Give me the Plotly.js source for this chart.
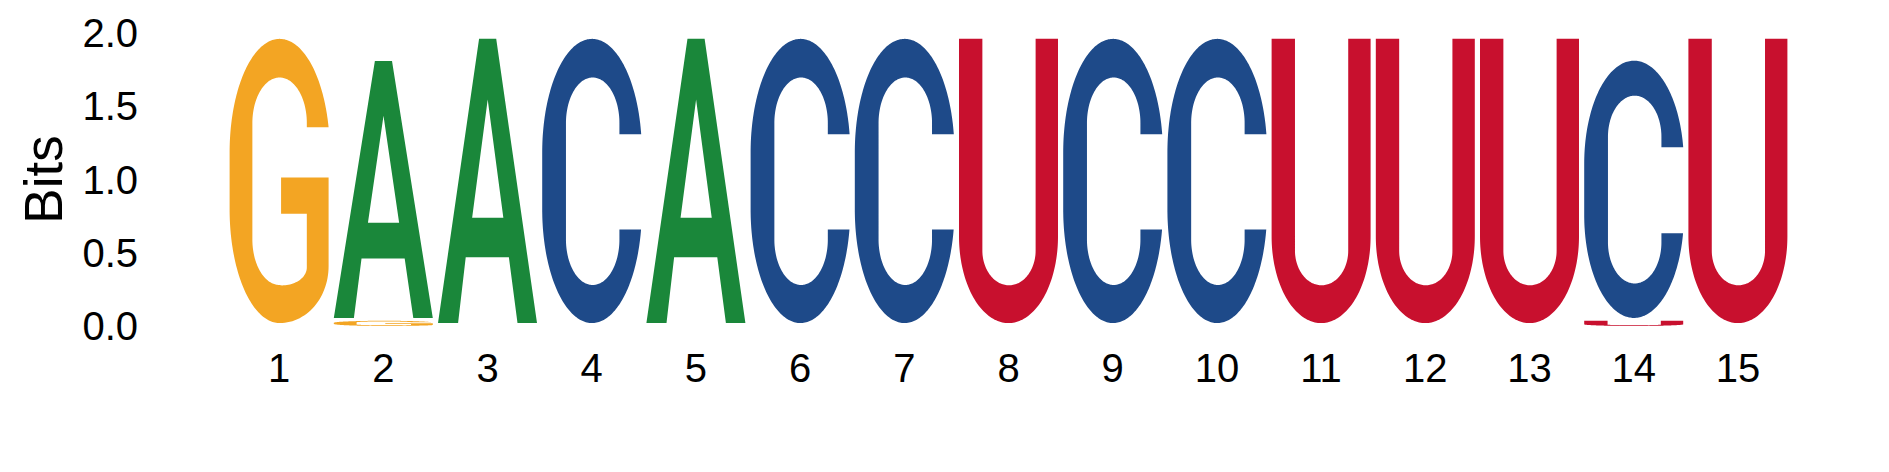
<!DOCTYPE html>
<html>
<head>
<meta charset="utf-8">
<script src="https://cdn.plot.ly/plotly-3.0.1.min.js"></script>
<style>
  html, body { margin: 0; padding: 0; background: #ffffff; }
  #chart { width: 1889px; height: 472px; }
</style>
</head>
<body>
<div id="chart"></div>
<script>
const positions = [1, 2, 3, 4, 5, 6, 7, 8, 9, 10, 11, 12, 13, 14, 15];
const tickLabels = ['1', '2', '3', '4', '5', '6', '7', '8', '9', '10', '11', '12', '13', '14', '15'];
const bases = ['A', 'C', 'G', 'U'];
// information height (bits) of each base at each position
const heightA = [0, 1.808, 2.0, 0, 2.0, 0, 0, 0, 0, 0, 0, 0, 0, 0, 0];
const heightC = [0, 0, 0, 2.0, 0, 2.0, 2.0, 0, 2.0, 2.0, 0, 0, 0, 1.81, 0];
const heightG = [2.0, 0.0365, 0, 0, 0, 0, 0, 0, 0, 0, 0, 0, 0, 0, 0];
const heightU = [0, 0, 0, 0, 0, 0, 0, 2.0, 0, 0, 2.0, 2.0, 2.0, 0.037, 2.0];
const yTickVals = [0, 0.5, 1.0, 1.5, 2.0];
const yTickText = ['0.0', '0.5', '1.0', '1.5', '2.0'];

// ---- Style ----
const colors = { A: '#1A873A', C: '#1E4A89', G: '#F3A523', U: '#C8102E' };
const FONT = 'Liberation Sans, Arial, Helvetica, sans-serif';
const GLYPH_W = 0.95;     // fraction of a column used by a letter
const PAD_B = 0.01, PAD_T = 0.02;

// ---- Glyph outlines in a unit box (u to the right, v upward) ----
const TAU = 2 * Math.PI;
function earc(cx, cy, rx, ry, t0, t1, N) {
  const pts = [];
  for (let i = 0; i <= N; i++) {
    const t = t0 + (t1 - t0) * i / N;
    pts.push([cx + rx * Math.cos(t), cy + ry * Math.sin(t)]);
  }
  return pts;
}
// "stadium" contour: elliptical top cap (centre vt, half-height a) and bottom cap
// (centre vb, half-height b), joined by straight vertical sides.
function stadium(c, r, vt, a, vb, b, t0, t1, N) {
  const lo = Math.min(t0, t1), hi = Math.max(t0, t1);
  const cuts = [];
  for (let k = Math.ceil(lo / Math.PI); k * Math.PI < hi; k++) {
    if (k * Math.PI > lo) cuts.push(k * Math.PI);
  }
  if (t1 < t0) cuts.reverse();
  const bps = [t0].concat(cuts, [t1]);
  let pts = [];
  for (let i = 0; i < bps.length - 1; i++) {
    const s0 = bps[i], s1 = bps[i + 1];
    const top = Math.sin((s0 + s1) / 2) >= 0;
    const n = Math.max(4, Math.round(N * Math.abs(s1 - s0) / TAU));
    pts = pts.concat(top ? earc(c, vt, r, a, s0, s1, n) : earc(c, vb, r, b, s0, s1, n));
  }
  return pts;
}

const glyphs = {
  C: (function () {
    const oc = 0.5033;
    const ta = Math.asin((0.664 - 0.6) / 0.4), tb = TAU + Math.asin((0.329 - 0.4) / 0.4);
    const outer = stadium(oc, oc, 0.6, 0.4, 0.4, 0.4, ta, tb, 260);
    let inner = [[0.78, 0.329]];
    inner = inner.concat(stadium(0.51, 0.27, 0.704, 0.16, 0.294, 0.16, TAU, 0, 220));
    inner.push([0.78, 0.664]);
    return [outer.concat(inner)];
  })(),
  G: (function () {
    const oc = 0.5063;
    const ta = Math.asin((0.689 - 0.6) / 0.4);
    let pts = stadium(oc, oc, 0.6, 0.4, 0.4, 0.4, ta, 1.5 * Math.PI, 260);
    pts = pts.concat(earc(oc, 0.2, 1 - oc, 0.2, 1.5 * Math.PI, TAU, 30));
    pts.push([1.0, 0.512], [0.52, 0.512], [0.52, 0.385], [0.78, 0.385], [0.78, 0.196]);
    pts = pts.concat(earc(0.53, 0.196, 0.25, 0.0635, TAU, 1.5 * Math.PI, 24));
    pts = pts.concat(stadium(0.505, 0.275, 0.704, 0.16, 0.294, 0.16, 1.5 * Math.PI, 0, 220));
    pts.push([0.78, 0.689]);
    return [pts];
  })(),
  U: (function () {
    let pts = [[0, 1], [0, 0.305]];
    pts = pts.concat(earc(0.5, 0.305, 0.5, 0.305, Math.PI, TAU, 100));
    pts.push([1, 1], [0.774, 1], [0.774, 0.255]);
    pts = pts.concat(earc(0.505, 0.255, 0.269, 0.122, TAU, Math.PI, 80));
    pts.push([0.236, 1]);
    return [pts];
  })(),
  A: [
    [[0, 0], [0.415, 1], [0.588, 1], [1, 0], [0.803, 0], [0.716, 0.232], [0.28, 0.232], [0.203, 0]],
    [[0.345, 0.371], [0.66, 0.371], [0.502, 0.787]]
  ]
};

function glyphPath(letter, x, y0, h) {
  const f = (p) => {
    const dx = x + (p[0] - 0.5) * GLYPH_W;
    const dy = y0 + (PAD_B + p[1] * (1 - PAD_B - PAD_T)) * h;
    return dx.toFixed(4) + ',' + dy.toFixed(5);
  };
  return glyphs[letter].map(c => 'M' + c.map(f).join('L') + 'Z').join(' ');
}

// ---- Build stacked letters (smallest at the bottom) ----
const heights = { A: heightA, C: heightC, G: heightG, U: heightU };
const shapes = [];
positions.forEach((pos, i) => {
  const col = bases.map(b => ({ b: b, h: heights[b][i] })).filter(o => o.h > 0)
    .sort((p, q) => p.h - q.h);
  let base = 0;
  col.forEach(o => {
    shapes.push({
      type: 'path', xref: 'x', yref: 'y',
      path: glyphPath(o.b, pos, base, o.h),
      fillcolor: colors[o.b], line: { width: 0 }, layer: 'above'
    });
    base += o.h;
  });
});

const trace = {
  x: positions, y: positions.map(() => null), type: 'scatter', mode: 'markers',
  hoverinfo: 'skip', showlegend: false
};

const layout = {
  width: 1889, height: 472,
  margin: { l: 227, r: 99, t: 33, b: 146, pad: 0 },
  paper_bgcolor: '#ffffff', plot_bgcolor: '#ffffff',
  showlegend: false,
  font: { family: FONT, color: '#000000' },
  shapes: shapes,
  xaxis: {
    range: [0.5, 15.5], tickmode: 'array', tickvals: positions, ticktext: tickLabels,
    ticks: '', showgrid: false, zeroline: false, showline: false, automargin: false,
    tickfont: { family: FONT, size: 40, color: '#000000' }, ticklabelstandoff: 15, fixedrange: true
  },
  yaxis: {
    range: [0, 2], tickmode: 'array', tickvals: yTickVals, ticktext: yTickText,
    ticks: '', showgrid: false, zeroline: false, showline: false, automargin: false,
    tickfont: { family: FONT, size: 40, color: '#000000' }, ticklabelstandoff: 88, fixedrange: true,
    title: { text: 'Bits', font: { family: FONT, size: 53, color: '#000000' }, standoff: 2 }
  }
};

Plotly.newPlot('chart', [trace], layout, { displayModeBar: false, staticPlot: true });
</script>
</body>
</html>
